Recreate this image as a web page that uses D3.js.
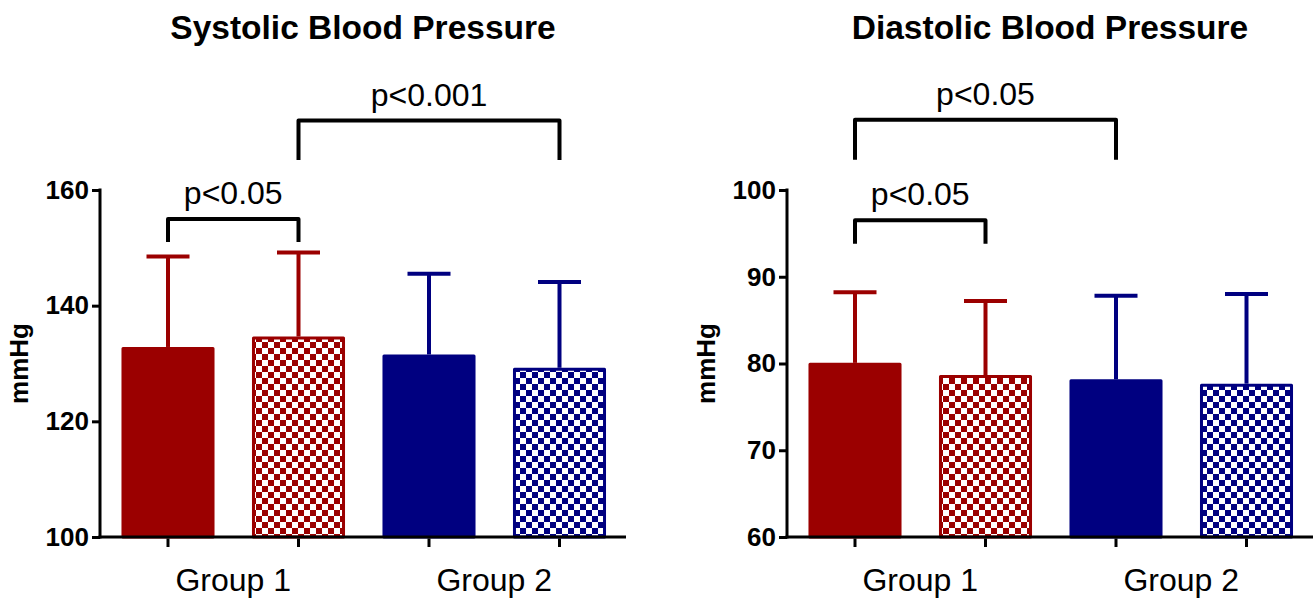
<!DOCTYPE html>
<html>
  <head>
    <meta charset="utf-8">
    <title>Blood pressure by group</title>
    <script src="https://d3js.org/d3.v7.min.js"></script>
    <style>
      body { margin: 0; background: #fff; }
      svg { display: block; font-family: "Liberation Sans", Arial, sans-serif; }
      .axis path, .axis line { stroke: #000; stroke-width: 3px; }
      .axis text { fill: #000; font-family: "Liberation Sans", Arial, sans-serif; }
    </style>
  </head>
  <body>
    <svg id="chart" width="1315" height="599"></svg>
    <script>
      // data
      var groups = ["Group 1", "Group 2"];
      var barKeys = ["g1a", "g1b", "g2a", "g2b"];
      var systolicMean = [132.6, 134.4, 131.3, 129.0];
      var systolicSD = [15.9, 14.8, 14.2, 15.1];
      var diastolicMean = [79.9, 78.5, 78.0, 77.5];
      var diastolicSD = [8.3, 8.7, 9.8, 10.5];
      var systolicTicks = [100, 120, 140, 160];
      var diastolicTicks = [60, 70, 80, 90, 100];
      // brackets: bar index from/to, top of bracket and foot of legs (mmHg)
      var systolicBrackets = [
        { from: 0, to: 1, top: 155, foot: 151, label: "p<0.05" },
        { from: 1, to: 3, top: 172, foot: 165.2, label: "p<0.001" }
      ];
      var diastolicBrackets = [
        { from: 0, to: 1, top: 96.5, foot: 93.8, label: "p<0.05" },
        { from: 0, to: 2, top: 108.1, foot: 103.5, label: "p<0.05" }
      ];

      // styles
      var red = "#9b0000", blue = "#000080";
      var barColor = { g1a: red, g1b: red, g2a: blue, g2b: blue };
      var barChecked = { g1a: false, g1b: true, g2a: false, g2b: true };

      var svg = d3.select("#chart");
      var defs = svg.append("defs");
      [["checkRed", red], ["checkBlue", blue]].forEach(function(p) {
        var pat = defs.append("pattern")
          .attr("id", p[0])
          .attr("patternUnits", "userSpaceOnUse")
          .attr("width", 12).attr("height", 12);
        pat.append("rect").attr("width", 12).attr("height", 12).attr("fill", "#fff");
        pat.append("rect").attr("width", 6).attr("height", 6).attr("fill", p[1]);
        pat.append("rect").attr("x", 6).attr("y", 6).attr("width", 6).attr("height", 6).attr("fill", p[1]);
      });

      var margin = { top: 190, bottom: 62 };
      var height = 599;
      var plotW = 526;

      function drawPanel(left, title, means, sds, ticks, brackets) {
        var g = svg.append("g").attr("transform", "translate(" + left + ",0)");
        var y = d3.scaleLinear()
          .domain(d3.extent(ticks))
          .range([height - margin.bottom, margin.top]);
        var x = d3.scaleBand()
          .domain(barKeys)
          .range([2.75, 524.75])
          .paddingInner(0.31)
          .paddingOuter(0.155);
        var cx = function(i) { return x(barKeys[i]) + x.bandwidth() / 2; };

        var rows = barKeys.map(function(k, i) {
          return { key: k, mean: means[i], sd: sds[i] };
        });

        // bars
        g.selectAll(".bar")
            .data(rows)
          .enter().append("rect")
            .attr("class", "bar")
            .attr("x", function(d) { return x(d.key); })
            .attr("width", x.bandwidth())
            .attr("y", function(d) { return y(d.mean); })
            .attr("height", function(d) { return y(ticks[0]) - y(d.mean); })
            .attr("fill", function(d) {
              if (!barChecked[d.key]) return barColor[d.key];
              return barColor[d.key] == red ? "url(#checkRed)" : "url(#checkBlue)";
            })
            .attr("stroke", function(d) { return barColor[d.key]; })
            .attr("stroke-width", 3)
            .attr("stroke-linejoin", "round");

        // error bars (upper only)
        var err = g.selectAll(".err")
            .data(rows)
          .enter().append("g")
            .attr("class", "err")
            .attr("stroke", function(d) { return barColor[d.key]; })
            .attr("stroke-width", 4);
        err.append("line")
          .attr("x1", function(d) { return x(d.key) + x.bandwidth() / 2; })
          .attr("x2", function(d) { return x(d.key) + x.bandwidth() / 2; })
          .attr("y1", function(d) { return y(d.mean) - 1.5; })
          .attr("y2", function(d) { return y(d.mean + d.sd); });
        err.append("line")
          .attr("x1", function(d) { return x(d.key) + x.bandwidth() / 2 - 21.5; })
          .attr("x2", function(d) { return x(d.key) + x.bandwidth() / 2 + 21.5; })
          .attr("y1", function(d) { return y(d.mean + d.sd); })
          .attr("y2", function(d) { return y(d.mean + d.sd); });

        // y axis
        var yAxis = d3.axisLeft(y)
          .tickValues(ticks)
          .tickSizeInner(8)
          .tickSizeOuter(0)
          .tickPadding(3);
        var yg = g.append("g").attr("class", "axis").call(yAxis);
        yg.selectAll("text")
          .style("font-size", "26px")
          .style("font-weight", "bold");
        yg.select(".domain").attr("d", "M0," + (y.range()[1] - 1.5) + "V" + (y.range()[0] + 1.5));

        // x axis
        var xAxis = d3.axisBottom(x)
          .tickSizeInner(10)
          .tickSizeOuter(0)
          .tickFormat("");
        var xg = g.append("g")
          .attr("class", "axis")
          .attr("transform", "translate(0," + y.range()[0] + ")")
          .call(xAxis);
        xg.select(".domain").attr("d", "M-1.5,0H" + plotW);
        xg.selectAll(".tick line").attr("y1", 1.5);
        g.selectAll(".group")
            .data(groups)
          .enter().append("text")
            .attr("class", "group")
            .attr("x", function(d, i) { return (cx(2 * i) + cx(2 * i + 1)) / 2; })
            .attr("y", y.range()[0] + 54)
            .attr("text-anchor", "middle")
            .style("font-size", "32px")
            .text(function(d) { return d; });

        // y label
        g.append("text")
          .attr("transform", "translate(-72," + (y.range()[0] + y.range()[1]) / 2 + ") rotate(-90)")
          .attr("text-anchor", "middle")
          .style("font-size", "26px")
          .style("font-weight", "bold")
          .text("mmHg");

        // title
        g.append("text")
          .attr("x", plotW / 2)
          .attr("y", 39)
          .attr("text-anchor", "middle")
          .style("font-size", "33.5px")
          .style("font-weight", "bold")
          .text(title);

        // significance brackets
        var br = g.selectAll(".bracket")
            .data(brackets)
          .enter().append("g")
            .attr("class", "bracket");
        br.append("path")
          .attr("fill", "none")
          .attr("stroke", "#000")
          .attr("stroke-width", 4)
          .attr("stroke-linejoin", "round")
          .attr("d", function(d) {
            return "M" + cx(d.from) + "," + y(d.foot) +
              "V" + y(d.top) + "H" + cx(d.to) + "V" + y(d.foot);
          });
        br.append("text")
          .attr("x", function(d) { return (cx(d.from) + cx(d.to)) / 2; })
          .attr("y", function(d) { return y(d.top) - 15; })
          .attr("text-anchor", "middle")
          .style("font-size", "32px")
          .text(function(d) { return d.label; });
      }

      drawPanel(100, "Systolic Blood Pressure", systolicMean, systolicSD, systolicTicks, systolicBrackets);
      drawPanel(787, "Diastolic Blood Pressure", diastolicMean, diastolicSD, diastolicTicks, diastolicBrackets);
    </script>
  </body>
</html>
